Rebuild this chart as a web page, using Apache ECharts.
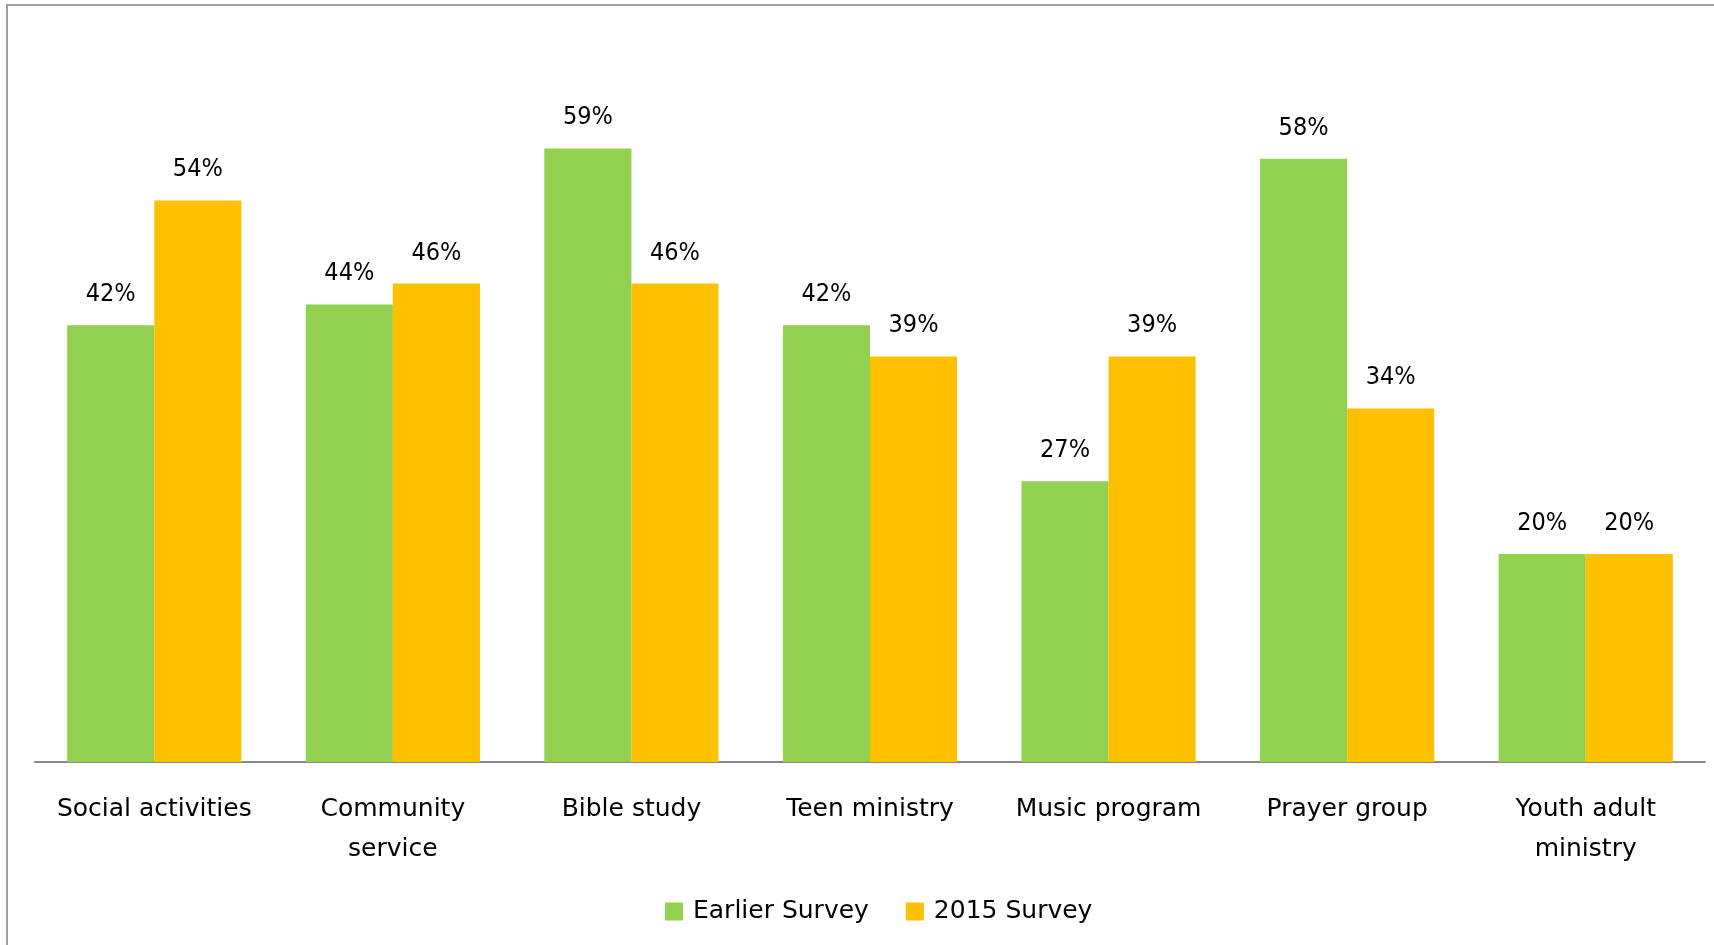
<!DOCTYPE html>
<html><head><meta charset="utf-8">
<script src="https://cdn.jsdelivr.net/npm/echarts@6/dist/echarts.min.js"></script>
<style>html,body{margin:0;padding:0;background:#fff}#c{width:1714px;height:945px}</style>
</head><body><div id="c"></div>
<script>
const categories = ['Social activities', 'Community\nservice', 'Bible study', 'Teen ministry', 'Music program', 'Prayer group', 'Youth adult\nministry'];
const earlierSurvey = [42, 44, 59, 42, 27, 58, 20];
const survey2015 = [54, 46, 46, 39, 39, 34, 20];
const seriesNames = ['Earlier Survey', '2015 Survey'];

const textFont = 'DejaVu Sans';
const labelFont = "'DejaVu Sans Condensed', 'DejaVu Sans'";
const chart = echarts.init(document.getElementById('c'));
const labelCfg = {show: true, position: 'top', distance: 18, formatter: '{c}%', color: '#000', fontFamily: labelFont, fontSize: 25};
chart.setOption({
  animation: false,
  graphic: [{type: 'rect', shape: {x: 7, y: 5, width: 1800, height: 1000}, style: {fill: 'none', stroke: '#a0a0a0', lineWidth: 2}, silent: true}],
  legend: {bottom: 16, left: 660, itemWidth: 18, itemHeight: 18, itemGap: 37, icon: 'rect',
    textStyle: {fontFamily: textFont, fontSize: 25, color: '#000', padding: [0, 0, 0, 5]}, data: seriesNames},
  grid: {left: 35, right: 9, top: 34, bottom: 183, containLabel: false},
  xAxis: {type: 'category', data: categories,
    axisLine: {lineStyle: {color: '#888', width: 2}}, axisTick: {show: false},
    axisLabel: {color: '#000', fontFamily: textFont, fontSize: 25, margin: 27, lineHeight: 40, interval: 0}},
  yAxis: {type: 'value', min: 0, max: 70, show: false, splitLine: {show: false}},
  series: [
    {name: seriesNames[0], type: 'bar', data: earlierSurvey, itemStyle: {color: '#92D050'}, barGap: '0%', barCategoryGap: '27%', label: labelCfg},
    {name: seriesNames[1], type: 'bar', data: survey2015, itemStyle: {color: '#FFC000'}, barGap: '0%', barCategoryGap: '27%', label: labelCfg}
  ]
});
</script></body></html>
